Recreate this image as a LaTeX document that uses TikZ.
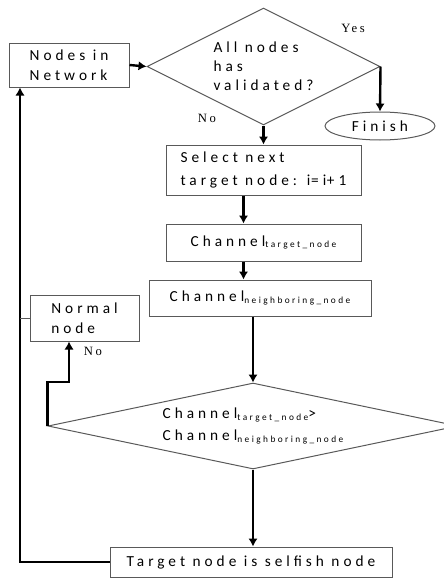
\documentclass[tikz,border=0pt]{standalone}
\usepackage{fontspec}
\usetikzlibrary{shapes.geometric,arrows.meta}
\newfontfamily\boxfont[LetterSpace=26]{Carlito}
\newfontfamily\lblfont[LetterSpace=20]{Liberation Serif}
\newcommand{\chsub}[1]{\raisebox{-1.2pt}{\fontsize{7}{7}\selectfont #1}}

\begin{document}
\begin{tikzpicture}[x=0.75pt,y=0.75pt,yscale=-1,xscale=1,
    box/.style={draw=black!65,line width=0.75pt,rectangle,inner sep=0pt,font=\boxfont\fontsize{11.5}{15}\selectfont},
    dec/.style={box,shape=diamond,aspect=2},
    flow/.style={line width=1.8pt,-{Latex[length=6pt,width=7pt]}},
    lbl/.style={inner sep=0.75pt,font=\lblfont\fontsize{9.5}{9.5}\selectfont}]
        \useasboundingbox (0,0) rectangle (443,578);

        %Shape: Rectangle [id:net]
        \node[box,minimum width=90pt,minimum height=33pt,align=left] (net) at (69,65) {Nodes in\\Network};
        %Shape: Diamond [id:chk]
        \node[dec,minimum width=174.75pt,minimum height=87.75pt,align=left,font=\boxfont\fontsize{11.5}{14.25}\selectfont] (chk) at (263.5,66.5) {All nodes\\has\\validated?};
        %Shape: Ellipse [id:fin]
        \node[box,shape=ellipse,minimum width=82.5pt,minimum height=21pt] (fin) at (380,126) {Finish};
        %Shape: Rectangle [id:sel]
        \node[box,minimum width=146.25pt,minimum height=37.5pt,align=left,font=\boxfont\fontsize{11.5}{17.25}\selectfont] (sel) at (263.5,170) {Select next\\target node: {\addfontfeature{LetterSpace=4}i= i+ 1}};
        %Shape: Rectangle [id:ct]
        \node[box,minimum width=146.25pt,minimum height=27.75pt] (ct) at (263.5,242.5) {Channel\chsub{target\_node}};
        %Shape: Rectangle [id:cn]
        \node[box,minimum width=166.5pt,minimum height=27pt] (cn) at (260,298) {Channel\chsub{neighboring\_node}};
        %Shape: Diamond [id:cmp]
        \node[dec,aspect=4.7,minimum width=307.5pt,minimum height=64.5pt,align=left,font=\boxfont\fontsize{11.5}{16.5}\selectfont] (cmp) at (253,426) {Channel\chsub{target\_node}>\\Channel\chsub{neighboring\_node}};
        %Shape: Rectangle [id:nrm]
        \node[box,minimum width=81.75pt,minimum height=34.5pt,align=left] (nrm) at (84.5,318) {Normal\\node};
        %Shape: Rectangle [id:sfn]
        \node[box,minimum width=211.5pt,minimum height=22.5pt] (sfn) at (251,562) {Target node is selfish node};

        %Straight Lines [id:back]
        \coordinate (back) at (20,0);

        %Straight Lines
        \draw[flow] (net.east) -- (chk.west);
        \draw[flow] (chk.east) -- (fin.north);
        \draw[flow] (chk.south) -- (sel.north);
        \draw[flow] ([xshift=-15pt]sel.south) -- ([xshift=-15pt]ct.north);
        \draw[flow] ([xshift=-15pt]ct.south) -- ([xshift=-15pt]ct.south |- cn.north);
        \draw[flow] ([xshift=-5.25pt]cn.south) -- ([xshift=-5.25pt]cn.south |- cmp.north);
        \draw[flow] (cmp.south) -- (cmp.south |- sfn.north);
        \draw[flow] (cmp.west) -- ++(0,-44) -| ([xshift=-11.6pt]nrm.south);
        \draw[flow] (sfn.west) -| (back |- net.south);
        \draw[draw=black!65,line width=0.75pt] (nrm.west) -- (nrm.west -| back);

        % Text Node
        \node[lbl] (yes) at (353,28) {Yes};
        % Text Node
        \node[lbl] (no1) at (207,118) {No};
        % Text Node
        \node[lbl] (no2) at (93,351) {No};

\end{tikzpicture}
\end{document}
